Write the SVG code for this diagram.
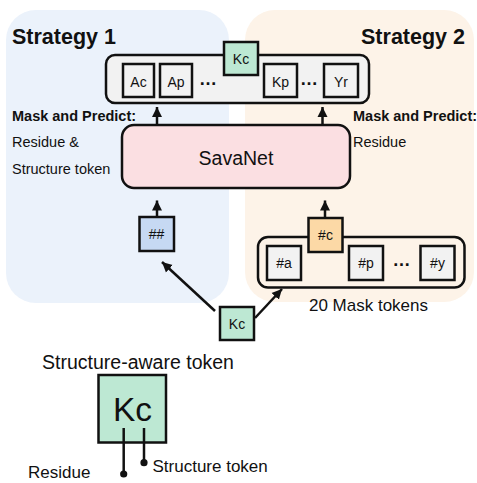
<svg xmlns="http://www.w3.org/2000/svg" width="477" height="483" viewBox="0 0 477 483">
<defs>
<style>
text{font-family:"Liberation Sans",Arial,sans-serif;fill:#111}
.b{font-weight:bold}
.box{stroke:#111;stroke-width:2.5}
.gray{fill:#f2f2f2}
.green{fill:#bde8d3}
.tok{font-size:14px;text-anchor:middle}
.lbl{font-size:14.5px}
.conn{stroke:#111;stroke-width:2.5;fill:none}
</style>
<marker id="ah" markerUnits="userSpaceOnUse" markerWidth="12" markerHeight="12" viewBox="0 0 12 12" refX="10" refY="6" orient="auto">
<path d="M0,1 L10,6 L0,11 Z" fill="#111"/>
</marker>
</defs>
<rect width="477" height="483" fill="#fff"/>
<g id="panel-strategy1">
<rect x="6" y="10" width="223" height="293" rx="30" fill="#ebf2fb"/>
<text x="12" y="44" class="b" font-size="21.5">Strategy 1</text>
<text x="12" y="120.5" class="b lbl">Mask and Predict:</text>
<text x="12" y="146.5" class="lbl">Residue &amp;</text>
<text x="12" y="173.5" class="lbl">Structure token</text>
</g>
<g id="panel-strategy2">
<rect x="245" y="10" width="229" height="292" rx="30" fill="#fdf3e8"/>
<text x="465" y="44" class="b" font-size="21.5" text-anchor="end">Strategy 2</text>
<text x="353" y="120.5" class="b lbl">Mask and Predict:</text>
<text x="353" y="146.5" class="lbl">Residue</text>
</g>
<g id="output-tokens">
<rect x="106" y="55" width="263" height="48" rx="9" class="box gray"/>
<rect x="123" y="64" width="31" height="33" class="box gray"/>
<text x="138.5" y="86.5" class="tok">Ac</text>
<rect x="160" y="64" width="32" height="33" class="box gray"/>
<text x="176" y="86.5" class="tok">Ap</text>
<text x="208" y="85" class="b" font-size="18" text-anchor="middle">…</text>
<rect x="264" y="64" width="33" height="33" class="box gray"/>
<text x="280.5" y="86.5" class="tok">Kp</text>
<text x="309" y="85" class="b" font-size="18" text-anchor="middle">…</text>
<rect x="324" y="64" width="34" height="33" class="box gray"/>
<text x="341" y="86.5" class="tok">Yr</text>
<rect x="224" y="42" width="34" height="33" class="box green"/>
<text x="241" y="64" class="tok">Kc</text>
</g>
<g id="savanet">
<rect x="122" y="125" width="228" height="63" rx="12" class="box" fill="#fbdfe2"/>
<text x="236" y="165" font-size="19.5" text-anchor="middle">SavaNet</text>
</g>
<g id="token-hash-hash">
<rect x="139.5" y="217" width="34.5" height="34" class="box" fill="#c6d9f3"/>
<text x="156.5" y="239" class="tok">##</text>
</g>
<g id="mask-tokens">
<rect x="258" y="237" width="206.5" height="50.5" rx="10" class="box" fill="none"/>
<rect x="267" y="246" width="34" height="34" class="box gray"/>
<text x="284" y="268" class="tok">#a</text>
<rect x="349" y="246" width="34" height="34" class="box gray"/>
<text x="366" y="268" class="tok">#p</text>
<text x="401.5" y="266" class="b" font-size="18" text-anchor="middle">…</text>
<rect x="420.5" y="246" width="34" height="34" class="box gray"/>
<text x="437.5" y="268" class="tok">#y</text>
<rect x="308.5" y="218" width="34" height="34" class="box" fill="#fcd9a6"/>
<text x="325.5" y="240" class="tok">#c</text>
<text x="368.5" y="310.5" font-size="17" text-anchor="middle">20 Mask tokens</text>
</g>
<g id="token-kc">
<rect x="220" y="307" width="34" height="33" class="box green"/>
<text x="237" y="329" class="tok">Kc</text>
</g>
<g id="legend-structure-aware-token">
<text x="138" y="369" font-size="19.5" text-anchor="middle">Structure-aware token</text>
<rect x="98.5" y="375" width="67.5" height="67.5" class="box green"/>
<text x="132.5" y="421" font-size="33.5" text-anchor="middle">Kc</text>
<line x1="123.7" y1="428" x2="123.7" y2="474" stroke="#111" stroke-width="2.5"/>
<circle cx="123.7" cy="474" r="3.6" fill="#111"/>
<line x1="144" y1="428" x2="144" y2="462.7" stroke="#111" stroke-width="2.5"/>
<circle cx="144" cy="462.7" r="3.6" fill="#111"/>
<text x="152.5" y="471.5" font-size="17">Structure token</text>
<text x="28" y="478" font-size="17">Residue</text>
</g>
<g id="connectors">
<line x1="157" y1="125" x2="157" y2="107" class="conn" marker-end="url(#ah)"/>
<line x1="322.5" y1="125" x2="322.5" y2="107" class="conn" marker-end="url(#ah)"/>
<line x1="157" y1="217" x2="157" y2="200.5" class="conn" marker-end="url(#ah)"/>
<line x1="325" y1="218" x2="325" y2="200.5" class="conn" marker-end="url(#ah)"/>
<line x1="215" y1="311" x2="162" y2="262" class="conn" marker-end="url(#ah)"/>
<line x1="255" y1="318" x2="282" y2="289" class="conn" marker-end="url(#ah)"/>
</g>
</svg>
